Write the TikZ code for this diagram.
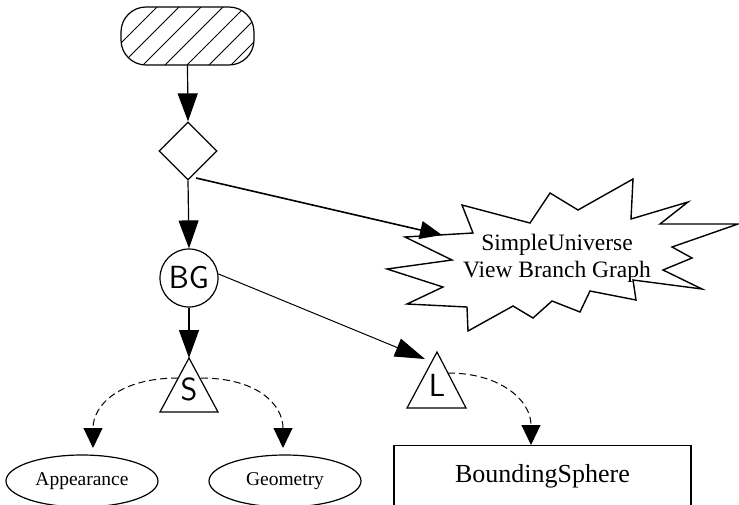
\documentclass[tikz,border=0pt]{standalone}
\usepackage{fontspec}
\setmainfont{Liberation Serif}
\usetikzlibrary{arrows.meta,shapes.geometric}
\begin{document}
\begin{tikzpicture}[x=1pt,y=-1pt,line width=1.2pt,
  bigtip/.style={-{Triangle[length=28pt,width=20pt]}},
  dashlink/.style={line width=1pt,dash pattern=on 7pt off 4pt,
    -{Triangle[length=20pt,width=19pt]}},
  letter/.style={font=\sffamily\fontsize{32}{38}\selectfont,inner sep=0pt},
  leaf/.style={ellipse,draw,minimum width=152pt,minimum height=52pt,inner sep=0pt,
    font=\fontsize{19.5}{23}\selectfont}]
\useasboundingbox (0,0) rectangle (739,504);

% hatched terminator at the top
\node[draw,rectangle,rounded corners=25pt,minimum width=133pt,minimum height=58pt,
  inner sep=0pt,
  path picture={
    \foreach \k in {-3,...,6}
      \draw[line width=0.9pt] ([xshift={22pt+\k*22pt}]path picture bounding box.south west)
        -- ++(60,-60);
  }] (start) at (187.5,36) {};

% decision diamond
\node[diamond,draw,aspect=1,minimum width=58pt,minimum height=58pt,inner sep=0pt]
  (dia) at (188,151) {};

% branch group
\node[circle,draw,minimum size=58pt,inner sep=0pt,letter] (bg) at (189,278) {BG};

% shape and light triangles
\draw (189,358) coordinate (sapex) -- (218,412) -- (160,412) -- cycle;
\node[letter] (s) at (189,389) {S};
\draw (437,352) coordinate (lapex) -- (466,408) -- (407,408) -- cycle;
\node[letter] (l) at (437,385) {L};

% leaves
\node[leaf] (app) at (82,481) {Appearance};
\node[leaf] (geo) at (285,481) {Geometry};
\node[draw,anchor=north,minimum width=297pt,inner sep=0pt,text height=37pt,
  text depth=53pt,font=\fontsize{26}{30}\selectfont] (bs) at (542.5,445) {BoundingSphere};

% view branch graph burst
\draw[line width=1.4pt,fill=white] (473,233) -- (462,205) -- (530,223) -- (550,193)
  -- (578,210) -- (633,179) -- (631,219) -- (688,202) -- (660,224) -- (738,224)
  -- (672,247) -- (692,258) -- (663,270) -- (702,289) -- (633,280) -- (636,300)
  -- (590,291) -- (580,312) -- (552,301) -- (533,318) -- (513,306) -- (468,331)
  -- (467,307) -- (407,304) -- (443,287) -- (387,269) -- (452,260) -- (405,237)
  -- cycle;
\node[align=center,inner sep=0pt,font=\fontsize{23.5}{27}\selectfont] (univ)
  at (557,258) {SimpleUniverse\\View Branch Graph};

% connector end points
\coordinate (diaout) at (196,178);
\coordinate (univin) at (442,235);
\coordinate (lin) at (425,359);
\coordinate (sl) at (178,378);
\coordinate (sr) at (201,378);
\coordinate (lr) at (448,373);
\coordinate (appin) at (93,448);
\coordinate (geoin) at (283,448);
\coordinate (bsin) at (531,445);

% connectors
\draw[bigtip] (start.south) -- (dia.north);
\draw[bigtip] (dia.south) -- (bg.north);
\draw[line width=1.6pt,-{Triangle[length=22pt,width=18pt]}] (diaout) -- (univin);
\draw[bigtip] (bg.south) -- (sapex);
\draw[line width=1pt,-{Triangle[length=30pt,width=19pt]}] (bg.8) -- (lin);
\draw[dashlink] (sl) .. controls (120,378) and (93,405) .. (appin);
\draw[dashlink] (sr) .. controls (258,378) and (283,405) .. (geoin);
\draw[dashlink] (lr) .. controls (500,373) and (531,400) .. (bsin);
\end{tikzpicture}
\end{document}
